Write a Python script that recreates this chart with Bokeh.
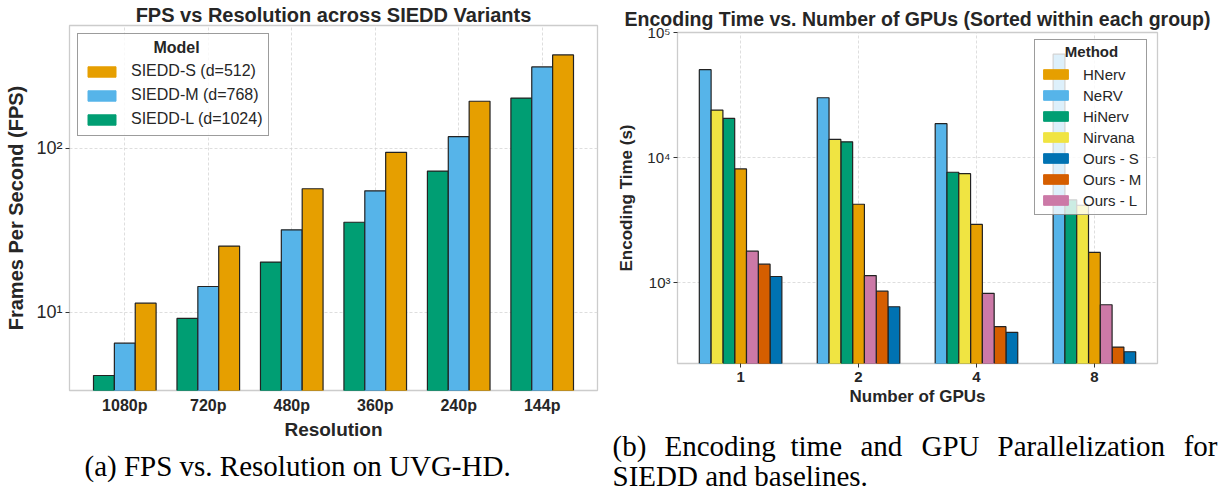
from bokeh.plotting import figure
from bokeh.models import (Range1d, FixedTicker, CustomJSTickFormatter, Legend,
                          LegendItem, Label, ColumnDataSource)
from bokeh.embed import file_html
from bokeh.resources import INLINE

# ---------------- data ----------------
resolutions = ["1080p", "720p", "480p", "360p", "240p", "144p"]
fps_s = [11.4, 25.4, 56.8, 94.8, 194, 372]
fps_m = [6.5, 14.4, 31.9, 55.2, 118, 314]
fps_l = [4.13, 9.2, 20.3, 35.5, 72.8, 203]

gpus = ["1", "2", "4", "8"]
methods = ["HNerv", "NeRV", "HiNerv", "Nirvana", "Ours - S", "Ours - M", "Ours - L"]
t_hnerv = [8070, 4210, 2900, 1730]
t_nerv = [50400, 30000, 18600, 67100]
t_hinerv = [20500, 13300, 7590, 4570]
t_nirvana = [23900, 13900, 7400, 4130]
t_ours_s = [1110, 635, 396, 277]
t_ours_m = [1393, 847, 440, 302]
t_ours_l = [1770, 1130, 813, 659]

caption_a = "(a) FPS vs. Resolution on UVG-HD."
caption_b1 = ["(b)", "Encoding", "time", "and", "GPU", "Parallelization", "for"]
caption_b2 = "SIEDD and baselines."

# ---------------- style ----------------
FONT = "Liberation Sans"
SERIF = "Liberation Serif"
TXT = "#262626"
NBSP = "\u00a0"
C = {"orange": "#E69F00", "sky": "#56B4E9", "green": "#009E73", "yellow": "#F0E442",
     "blue": "#0072B2", "verm": "#D55E00", "pink": "#CC79A7"}

sup_fmt = CustomJSTickFormatter(code=r"""
const sup = ["\u2070","\u00b9","\u00b2","\u00b3","\u2074","\u2075","\u2076","\u2077","\u2078","\u2079"];
const e = Math.round(Math.log10(tick));
return "10" + String(e).split("").map(c => sup[+c]).join("");
""")


def style(p, xfs, yfs, lfs):
    p.background_fill_color = "white"
    p.border_fill_color = "white"
    p.outline_line_color = "#cccccc"
    p.outline_line_width = 1.3
    for ax in (p.xaxis, p.yaxis):
        ax.axis_line_color = None
        ax.major_tick_line_color = "#333333"
        ax.major_tick_in = 0
        ax.major_tick_out = 4
        ax.minor_tick_line_color = None
        ax.major_label_text_font = FONT
        ax.major_label_text_color = TXT
        ax.axis_label_text_font = FONT
        ax.axis_label_text_color = TXT
        ax.axis_label_text_font_style = "bold"
        ax.axis_label_text_font_size = lfs
    p.xaxis.major_label_text_font_style = "bold"
    p.xaxis.major_label_text_font_size = xfs
    p.yaxis.major_label_text_font_size = yfs
    p.xaxis.major_label_standoff = 6
    p.yaxis.major_label_standoff = 3
    p.xaxis.axis_label_standoff = 2
    p.yaxis.axis_label_standoff = 8
    for g in (p.xgrid, p.ygrid):
        g.grid_line_color = "#d5d5d5"
        g.grid_line_dash = "3 2"
        g.grid_line_width = 0.8
    p.title.text_font = FONT
    p.title.text_font_style = "bold"
    p.title.text_color = TXT
    p.title.align = "center"


def style_legend(lg, fs, gw, gh, lh, sp, pad):
    lg.title_text_font = FONT
    lg.title_text_font_style = "bold"
    lg.title_text_font_size = fs
    lg.title_text_color = TXT
    lg.label_text_font = FONT
    lg.label_text_font_size = fs
    lg.label_text_color = TXT
    lg.glyph_width = gw
    lg.glyph_height = gh
    lg.label_height = lh
    lg.spacing = sp
    lg.padding = pad
    lg.title_standoff = 3
    lg.label_standoff = 12
    lg.border_line_color = "#3a3a3a"
    lg.border_line_width = 1
    lg.background_fill_alpha = 0.8
    lg.margin = 0


# ---------------- left chart ----------------
p1 = figure(width=607, height=490, y_axis_type="log",
            x_range=Range1d(-0.6625, 5.6625), y_range=Range1d(3.345, 562),
            output_backend="svg", toolbar_location=None,
            min_border_left=69, min_border_right=10, min_border_top=25, min_border_bottom=100,
            title="FPS vs Resolution across SIEDD Variants")
style(p1, "16px", "18px", "19px")
p1.title.text_font_size = "20px"
p1.title.standoff = 0
p1.yaxis.axis_label_text_font_size = "20px"
p1.xaxis.axis_label = "Resolution"
p1.yaxis.axis_label = "Frames Per Second (FPS)"
p1.xaxis.ticker = FixedTicker(ticks=list(range(len(resolutions))))
p1.xaxis.major_label_overrides = {i: r for i, r in enumerate(resolutions)}
p1.xaxis.major_tick_out = 0
p1.yaxis.ticker = FixedTicker(ticks=[10, 100])
p1.yaxis.formatter = sup_fmt
p1.yaxis.axis_label_standoff = 6

left_series = [("SIEDD-L (d=1024)", fps_l, C["green"], -0.25),
               ("SIEDD-M (d=768)", fps_m, C["sky"], 0.0),
               ("SIEDD-S (d=512)", fps_s, C["orange"], 0.25)]
proxies1 = {}
for name, vals, col, off in left_series:
    src = ColumnDataSource(dict(x=[i + off for i in range(len(resolutions))], top=vals,
                                bottom=[1] * len(vals)))
    p1.vbar(x="x", top="top", bottom="bottom", width=0.25, source=src,
            fill_color=col, line_color="#222222", line_width=1.2)
    # legend swatch (zero-height bars below the visible range)
    proxies1[name] = p1.vbar(x="x", top="bottom", bottom="bottom", width=0.25, source=src,
                             fill_color=col, line_color=col)

leg1 = Legend(items=[LegendItem(label=n, renderers=[proxies1[n]])
                     for n in ["SIEDD-S (d=512)", "SIEDD-M (d=768)", "SIEDD-L (d=1024)"]],
              location=(8, 254), title=NBSP)
style_legend(leg1, "16px", 35, 13, 20, 4, 6)
p1.add_layout(leg1, "center")

# ---------------- right chart ----------------
p2 = figure(width=612, height=490, y_axis_type="log",
            x_range=Range1d(-0.535, 3.535), y_range=Range1d(223, 100000),
            output_backend="svg", toolbar_location=None,
            min_border_left=70, min_border_right=62, min_border_top=32, min_border_bottom=127,
            title="Encoding Time vs. Number of GPUs (Sorted within each group)")
style(p2, "15px", "15px", "17px")
p2.title.text_font_size = "19.5px"
p2.title.standoff = 6
p2.xaxis.axis_label = "Number of GPUs"
p2.yaxis.axis_label = "Encoding Time (s)"
p2.xaxis.ticker = FixedTicker(ticks=list(range(len(gpus))))
p2.xaxis.major_label_overrides = {i: g for i, g in enumerate(gpus)}
p2.xaxis.major_label_standoff = 4
p2.yaxis.ticker = FixedTicker(ticks=[1000, 10000, 100000])
p2.yaxis.formatter = sup_fmt

right_vals = {"HNerv": t_hnerv, "NeRV": t_nerv, "HiNerv": t_hinerv, "Nirvana": t_nirvana,
              "Ours - S": t_ours_s, "Ours - M": t_ours_m, "Ours - L": t_ours_l}
right_cols = {"HNerv": C["orange"], "NeRV": C["sky"], "HiNerv": C["green"],
              "Nirvana": C["yellow"], "Ours - S": C["blue"], "Ours - M": C["verm"],
              "Ours - L": C["pink"]}
xpos = {m: [] for m in methods}
for gi in range(len(gpus)):
    order = sorted(methods, key=lambda m: -right_vals[m][gi])
    for rank, m in enumerate(order):
        xpos[m].append(gi + (rank - 3) * 0.1)

proxies2 = {}
for m in methods:
    src = ColumnDataSource(dict(x=xpos[m], top=right_vals[m], bottom=[1] * len(gpus)))
    p2.vbar(x="x", top="top", bottom="bottom", width=0.1, source=src,
            fill_color=right_cols[m], line_color="#222222", line_width=1.2)
    proxies2[m] = p2.vbar(x="x", top="bottom", bottom="bottom", width=0.1, source=src,
                          fill_color=right_cols[m], line_color=right_cols[m])

leg2 = Legend(items=[LegendItem(label=m, renderers=[proxies2[m]]) for m in methods],
              location=(357, 148), title=NBSP)
style_legend(leg2, "15px", 31, 12, 18, 3, 5)
p2.add_layout(leg2, "center")

# ---------------- transparent overlay: legend titles and captions ----------------
p3 = figure(width=1219, height=490, x_range=Range1d(0, 1219), y_range=Range1d(0, 490),
            output_backend="svg", toolbar_location=None,
            x_axis_location=None, y_axis_location=None, min_border=0)
p3.grid.visible = False
p3.outline_line_color = None
p3.background_fill_alpha = 0
p3.border_fill_alpha = 0

p3.add_layout(Label(x=176, y=443, text="Model", text_font=FONT, text_font_style="bold",
                    text_font_size="16px", text_color=TXT, text_align="center",
                    text_baseline="middle"))
p3.add_layout(Label(x=1091, y=439, text="Method", text_font=FONT, text_font_style="bold",
                    text_font_size="15px", text_color=TXT, text_align="center",
                    text_baseline="middle"))

cap_kw = dict(text_font=SERIF, text_font_size="29px", text_color="black",
              text_baseline="alphabetic")
p3.add_layout(Label(x=84, y=25, text=caption_a, **cap_kw))
word_x = [612, 664, 790, 860, 921, 997]
for w, xa in zip(caption_b1[:-1], word_x):
    p3.add_layout(Label(x=xa, y=45, text=w, **cap_kw))
p3.add_layout(Label(x=1217, y=45, text=caption_b1[-1], text_align="right", **cap_kw))
p3.add_layout(Label(x=612, y=15, text=caption_b2, **cap_kw))

template = """
{% block contents %}
{% from macros import embed %}
<div style="position:relative;width:1219px;height:490px;overflow:hidden;">
{% for doc in docs %}{% for root in doc.roots %}
<div style="position:absolute;left:{{ ['0px','607px','0px'][loop.index0] }};top:0px;">
{{ embed(root) }}
</div>
{% endfor %}{% endfor %}
</div>
{% endblock %}
"""

html = file_html([p1, p2, p3], INLINE, template=template)
with open("out.html", "w", encoding="utf-8") as f:
    f.write(html)
